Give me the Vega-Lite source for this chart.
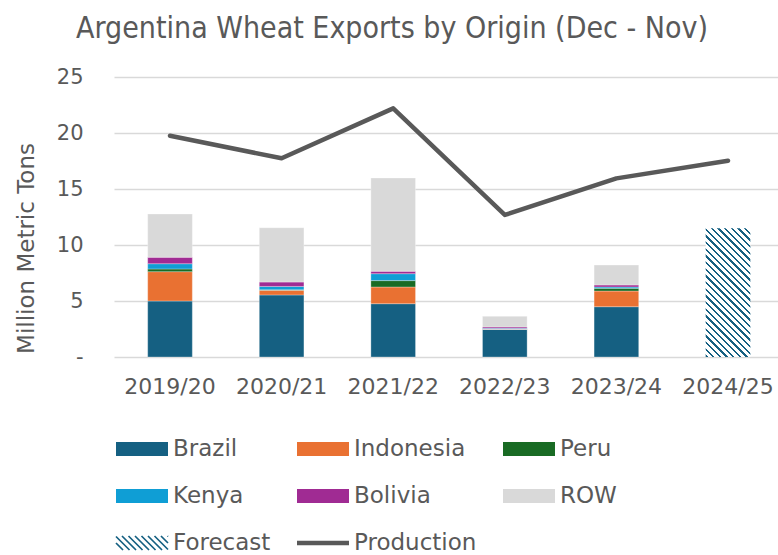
{
  "$schema": "https://vega.github.io/schema/vega-lite/v6.json",
  "autosize": {"type": "none"},
  "padding": {"left": 114, "top": 77, "right": 0, "bottom": 198},
  "width": 664,
  "height": 280,
  "background": "white",
  "config": {
    "view": {"stroke": null},
    "font": "DejaVu Sans",
    "axis": {"domain": false, "ticks": false, "labelColor": "#595959", "labelFont": "DejaVu Sans", "gridColor": "#D9D9D9", "gridWidth": 1.5}
  },
  "title": {
    "text": "Argentina Wheat Exports by Origin (Dec - Nov)",
    "anchor": "middle",
    "frame": "group",
    "dx": -54,
    "fontSize": 30,
    "font": "Liberation Sans Narrow, DejaVu Sans Condensed, Roboto",
    "fontWeight": "normal",
    "color": "#595959",
    "baseline": "alphabetic",
    "offset": -2
  },
  "datasets": {
    "exports": [
      {"year": "2019/20", "origin": "Brazil", "value": 5.0},
      {"year": "2019/20", "origin": "Indonesia", "value": 2.62},
      {"year": "2019/20", "origin": "Peru", "value": 0.24},
      {"year": "2019/20", "origin": "Kenya", "value": 0.47},
      {"year": "2019/20", "origin": "Bolivia", "value": 0.57},
      {"year": "2019/20", "origin": "ROW", "value": 3.87},
      {"year": "2020/21", "origin": "Brazil", "value": 5.54},
      {"year": "2020/21", "origin": "Indonesia", "value": 0.41},
      {"year": "2020/21", "origin": "Peru", "value": 0.05},
      {"year": "2020/21", "origin": "Kenya", "value": 0.3},
      {"year": "2020/21", "origin": "Bolivia", "value": 0.39},
      {"year": "2020/21", "origin": "ROW", "value": 4.85},
      {"year": "2021/22", "origin": "Brazil", "value": 4.76},
      {"year": "2021/22", "origin": "Indonesia", "value": 1.49},
      {"year": "2021/22", "origin": "Peru", "value": 0.57},
      {"year": "2021/22", "origin": "Kenya", "value": 0.62},
      {"year": "2021/22", "origin": "Bolivia", "value": 0.21},
      {"year": "2021/22", "origin": "ROW", "value": 8.33},
      {"year": "2022/23", "origin": "Brazil", "value": 2.47},
      {"year": "2022/23", "origin": "Indonesia", "value": 0.02},
      {"year": "2022/23", "origin": "Peru", "value": 0.02},
      {"year": "2022/23", "origin": "Kenya", "value": 0.05},
      {"year": "2022/23", "origin": "Bolivia", "value": 0.12},
      {"year": "2022/23", "origin": "ROW", "value": 0.95},
      {"year": "2023/24", "origin": "Brazil", "value": 4.49},
      {"year": "2023/24", "origin": "Indonesia", "value": 1.4},
      {"year": "2023/24", "origin": "Peru", "value": 0.24},
      {"year": "2023/24", "origin": "Kenya", "value": 0.12},
      {"year": "2023/24", "origin": "Bolivia", "value": 0.18},
      {"year": "2023/24", "origin": "ROW", "value": 1.78}
    ],
    "forecast": [
      {"year": "2024/25", "value": 11.5}
    ],
    "production": [
      {"year": "2019/20", "value": 19.76},
      {"year": "2020/21", "value": 17.74},
      {"year": "2021/22", "value": 22.2},
      {"year": "2022/23", "value": 12.68},
      {"year": "2023/24", "value": 15.95},
      {"year": "2024/25", "value": 17.53}
    ]
  },
  "encoding": {
    "x": {
      "field": "year",
      "type": "nominal",
      "scale": {"domain": ["2019/20", "2020/21", "2021/22", "2022/23", "2023/24", "2024/25"], "paddingInner": 0.6, "paddingOuter": 0.275, "align": 0.549},
      "axis": {"title": null, "labelAngle": 0, "labelFontSize": 22, "labelPadding": 19, "grid": false}
    },
    "y": {
      "field": "value",
      "type": "quantitative",
      "scale": {"domain": [0, 25]},
      "axis": {
        "values": [0, 5, 10, 15, 20, 25],
        "labelExpr": "datum.value === 0 ? '-' : datum.label",
        "labelFontSize": 21,
        "labelPadding": 31,
        "title": "Million Metric Tons",
        "titleFontSize": 23,
        "titleFontWeight": "normal",
        "titleColor": "#595959",
        "titleFont": "DejaVu Sans",
        "titleX": -81,
        "titleY": 171,
        "titleAngle": -90,
        "titleAlign": "center",
        "titleBaseline": "alphabetic"
      }
    }
  },
  "layer": [
    {
      "data": {"name": "exports"},
      "transform": [
        {"calculate": "indexof(['Brazil','Indonesia','Peru','Kenya','Bolivia','ROW'], datum.origin)", "as": "rank"}
      ],
      "mark": {"type": "bar", "stroke": "white", "strokeWidth": 0.5, "strokeOpacity": 0.6},
      "encoding": {
        "y": {"aggregate": "sum", "field": "value", "type": "quantitative", "stack": "zero"},
        "order": {"field": "rank", "type": "quantitative", "sort": "ascending"},
        "color": {
          "field": "origin",
          "type": "nominal",
          "scale": {
            "domain": ["Brazil", "Indonesia", "Peru", "Kenya", "Bolivia", "ROW", "Forecast", "Production"],
            "range": ["#156082", "#E97132", "#196B24", "#0F9ED5", "#A02B93", "#D9D9D9", "#156082", "#595959"]
          },
          "legend": {
            "title": null,
            "orient": "none",
            "legendX": 1,
            "legendY": 345,
            "direction": "horizontal",
            "columns": 3,
            "symbolType": "M-1,-0.27H1V0.27H-1Z",
            "symbolSize": 2704,
            "symbolStrokeWidth": 1.7,
            "labelFontSize": 23,
            "labelColor": "#595959",
            "labelFont": "DejaVu Sans",
            "labelOffset": 4,
            "labelLimit": 250,
            "rowPadding": 8,
            "columnPadding": 22,
            "encoding": {
              "symbols": {
                "shape": {"value": {"expr": "datum.value === 'Production' ? 'M-1,-0.09H1V0.09H-1Z' : datum.value === 'Forecast' ? 'M-1,0L-0.73,0.27M-1,-0.25L-0.48,0.27M-0.77,-0.27L-0.23,0.27M-0.52,-0.27L0.02,0.27M-0.27,-0.27L0.27,0.27M-0.02,-0.27L0.52,0.27M0.23,-0.27L0.77,0.27M0.48,-0.27L1,0.25M0.73,-0.27L1,0M0.98,-0.27L1,-0.25' : 'M-1,-0.27H1V0.27H-1Z'"}},
                "stroke": {"value": {"expr": "datum.value === 'Forecast' ? '#156082' : 'transparent'"}}
              }
            }
          }
        }
      }
    },
    {
      "data": {"name": "forecast"},
      "mark": {
        "type": "bar",
        "fill": {"gradient": "linear", "x1": 0, "y1": 1, "x2": 0.4156, "y2": -0.2021, "stops": [
          {"offset": 0, "color": "#156082"}, {"offset": 0.0135, "color": "#156082"}, {"offset": 0.0135, "color": "white"}, {"offset": 0.0385, "color": "white"},
          {"offset": 0.0385, "color": "#156082"}, {"offset": 0.0519, "color": "#156082"}, {"offset": 0.0519, "color": "white"}, {"offset": 0.0769, "color": "white"},
          {"offset": 0.0769, "color": "#156082"}, {"offset": 0.0904, "color": "#156082"}, {"offset": 0.0904, "color": "white"}, {"offset": 0.1154, "color": "white"},
          {"offset": 0.1154, "color": "#156082"}, {"offset": 0.1288, "color": "#156082"}, {"offset": 0.1288, "color": "white"}, {"offset": 0.1538, "color": "white"},
          {"offset": 0.1538, "color": "#156082"}, {"offset": 0.1673, "color": "#156082"}, {"offset": 0.1673, "color": "white"}, {"offset": 0.1923, "color": "white"},
          {"offset": 0.1923, "color": "#156082"}, {"offset": 0.2058, "color": "#156082"}, {"offset": 0.2058, "color": "white"}, {"offset": 0.2308, "color": "white"},
          {"offset": 0.2308, "color": "#156082"}, {"offset": 0.2442, "color": "#156082"}, {"offset": 0.2442, "color": "white"}, {"offset": 0.2692, "color": "white"},
          {"offset": 0.2692, "color": "#156082"}, {"offset": 0.2827, "color": "#156082"}, {"offset": 0.2827, "color": "white"}, {"offset": 0.3077, "color": "white"},
          {"offset": 0.3077, "color": "#156082"}, {"offset": 0.3212, "color": "#156082"}, {"offset": 0.3212, "color": "white"}, {"offset": 0.3462, "color": "white"},
          {"offset": 0.3462, "color": "#156082"}, {"offset": 0.3596, "color": "#156082"}, {"offset": 0.3596, "color": "white"}, {"offset": 0.3846, "color": "white"},
          {"offset": 0.3846, "color": "#156082"}, {"offset": 0.3981, "color": "#156082"}, {"offset": 0.3981, "color": "white"}, {"offset": 0.4231, "color": "white"},
          {"offset": 0.4231, "color": "#156082"}, {"offset": 0.4365, "color": "#156082"}, {"offset": 0.4365, "color": "white"}, {"offset": 0.4615, "color": "white"},
          {"offset": 0.4615, "color": "#156082"}, {"offset": 0.475, "color": "#156082"}, {"offset": 0.475, "color": "white"}, {"offset": 0.5, "color": "white"},
          {"offset": 0.5, "color": "#156082"}, {"offset": 0.5135, "color": "#156082"}, {"offset": 0.5135, "color": "white"}, {"offset": 0.5385, "color": "white"},
          {"offset": 0.5385, "color": "#156082"}, {"offset": 0.5519, "color": "#156082"}, {"offset": 0.5519, "color": "white"}, {"offset": 0.5769, "color": "white"},
          {"offset": 0.5769, "color": "#156082"}, {"offset": 0.5904, "color": "#156082"}, {"offset": 0.5904, "color": "white"}, {"offset": 0.6154, "color": "white"},
          {"offset": 0.6154, "color": "#156082"}, {"offset": 0.6288, "color": "#156082"}, {"offset": 0.6288, "color": "white"}, {"offset": 0.6538, "color": "white"},
          {"offset": 0.6538, "color": "#156082"}, {"offset": 0.6673, "color": "#156082"}, {"offset": 0.6673, "color": "white"}, {"offset": 0.6923, "color": "white"},
          {"offset": 0.6923, "color": "#156082"}, {"offset": 0.7058, "color": "#156082"}, {"offset": 0.7058, "color": "white"}, {"offset": 0.7308, "color": "white"},
          {"offset": 0.7308, "color": "#156082"}, {"offset": 0.7442, "color": "#156082"}, {"offset": 0.7442, "color": "white"}, {"offset": 0.7692, "color": "white"},
          {"offset": 0.7692, "color": "#156082"}, {"offset": 0.7827, "color": "#156082"}, {"offset": 0.7827, "color": "white"}, {"offset": 0.8077, "color": "white"},
          {"offset": 0.8077, "color": "#156082"}, {"offset": 0.8212, "color": "#156082"}, {"offset": 0.8212, "color": "white"}, {"offset": 0.8462, "color": "white"},
          {"offset": 0.8462, "color": "#156082"}, {"offset": 0.8596, "color": "#156082"}, {"offset": 0.8596, "color": "white"}, {"offset": 0.8846, "color": "white"},
          {"offset": 0.8846, "color": "#156082"}, {"offset": 0.8981, "color": "#156082"}, {"offset": 0.8981, "color": "white"}, {"offset": 0.9231, "color": "white"},
          {"offset": 0.9231, "color": "#156082"}, {"offset": 0.9365, "color": "#156082"}, {"offset": 0.9365, "color": "white"}, {"offset": 0.9615, "color": "white"},
          {"offset": 0.9615, "color": "#156082"}, {"offset": 0.975, "color": "#156082"}, {"offset": 0.975, "color": "white"}, {"offset": 1, "color": "white"}
        ]}
      },
      "encoding": {}
    },
    {
      "data": {"name": "production"},
      "mark": {"type": "line", "color": "#595959", "strokeWidth": 4.5, "strokeCap": "round", "strokeJoin": "round"},
      "encoding": {}
    }
  ]
}
